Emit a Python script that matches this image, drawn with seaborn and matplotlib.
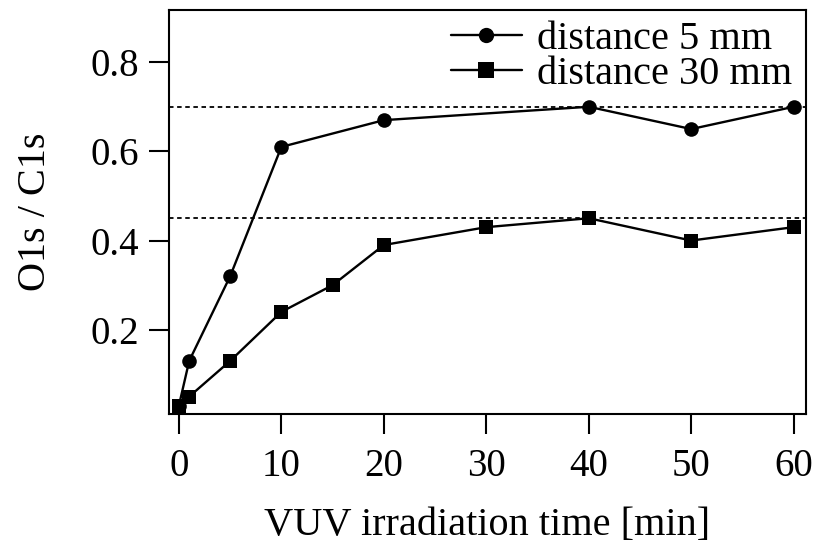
import matplotlib
matplotlib.use("Agg")
import matplotlib.pyplot as plt
import seaborn as sns
import pandas as pd

time_5mm = [0, 1, 5, 10, 20, 40, 50, 60]
ratio_5mm = [0.03, 0.13, 0.32, 0.61, 0.67, 0.70, 0.65, 0.70]
time_30mm = [0, 1, 5, 10, 15, 20, 30, 40, 50, 60]
ratio_30mm = [0.03, 0.05, 0.13, 0.24, 0.30, 0.39, 0.43, 0.45, 0.40, 0.43]
ref_levels = [0.70, 0.45]
series_labels = ["distance 5 mm", "distance 30 mm"]
x_ticks = [0, 10, 20, 30, 40, 50, 60]
y_ticks = [0.2, 0.4, 0.6, 0.8]

df = pd.concat([
    pd.DataFrame({"t": time_5mm, "r": ratio_5mm, "s": series_labels[0]}),
    pd.DataFrame({"t": time_30mm, "r": ratio_30mm, "s": series_labels[1]}),
])

sns.set_theme(style="ticks")
plt.rcParams['font.family'] = ['Liberation Serif', 'DejaVu Serif']
plt.rcParams['text.color'] = 'black'
plt.rcParams['axes.labelcolor'] = 'black'
plt.rcParams['xtick.color'] = 'black'
plt.rcParams['ytick.color'] = 'black'

FS = 28
FS_L = 29
W, H = 819, 554
L, R, B, T = 169, 806, 414, 10
fig = plt.figure(figsize=(W / 100, H / 100), dpi=100)
ax = fig.add_axes([L / W, 1 - B / H, (R - L) / W, (B - T) / H])

for lvl in ref_levels:
    ax.axhline(lvl, color="black", linestyle=(0, (2.5, 2)), linewidth=1.3, zorder=1)

sns.lineplot(data=df, x="t", y="r", hue="s", style="s",
             palette=["black", "black"], markers=["o", "s"], dashes=False,
             markersize=10.5, markeredgewidth=0, linewidth=1.7, ax=ax, zorder=3)

ax.set_xlim(-0.97, 61.2)
ax.set_ylim(0.011, 0.917)
ax.set_xticks(x_ticks)
ax.set_yticks(y_ticks)
ax.set_xticklabels([str(v) for v in x_ticks])
ax.set_yticklabels([f"{v:.1f}" for v in y_ticks])
ax.tick_params(axis="both", direction="out", length=14.5, width=1.5,
               labelsize=FS, color="black", labelcolor="black")
ax.tick_params(axis="x", pad=10)
ax.tick_params(axis="y", pad=7)
for sp in ax.spines.values():
    sp.set_linewidth(1.5)
    sp.set_color("black")

ax.set_xlabel("VUV irradiation time [min]", fontsize=FS_L, labelpad=16, color="black")
ax.set_ylabel("O1s / C1s", fontsize=FS_L, labelpad=26, color="black")

leg = ax.legend(loc="upper right", frameon=False, fontsize=FS_L, handlelength=1.75,
                handletextpad=0.38, labelspacing=-0.05, borderaxespad=0.0, borderpad=0.0,
                bbox_to_anchor=((792 - L) / (R - L), (B - 21) / (B - T)))
for h in leg.legend_handles:
    h.set_markersize(11)
for t in leg.get_texts():
    t.set_color("black")

fig.savefig("out.png", dpi=100)
